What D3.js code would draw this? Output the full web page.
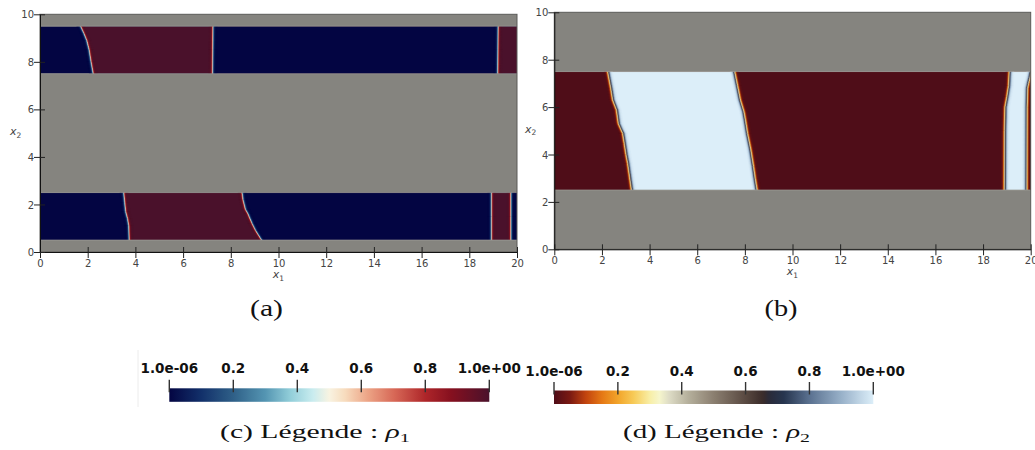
<!DOCTYPE html>
<html><head><meta charset="utf-8">
<script src="https://cdn.jsdelivr.net/npm/d3@7"></script>
<style>
html,body{margin:0;padding:0;background:#fff;}
svg{display:block;}
.tick text{font-family:"DejaVu Sans",sans-serif;font-size:10px;fill:#444;}
</style></head>
<body><svg id="c" width="1035" height="450"></svg>
<script>
// ---------- data ----------
const xTicks = [0, 2, 4, 6, 8, 10, 12, 14, 16, 18, 20];
const yTicks = [0, 2, 4, 6, 8, 10];
const cbTicks = [0, 0.2, 0.4, 0.6, 0.8, 1];
const cbLabels = ["1.0e-06", "0.2", "0.4", "0.6", "0.8", "1.0e+00"];

// Panel (a) : rho1, two bands
const bandA1 = [7.5, 9.5];
const bandA1Values = [0, 1, 0, 1];
const bandA1Interfaces = [
  [[1.71, 9.5], [1.85, 9.2], [1.97, 8.9], [2.07, 8.5], [2.15, 8.0], [2.24, 7.5]],
  [[7.26, 9.5], [7.25, 8.5], [7.24, 7.5]],
  [[19.22, 9.5], [19.21, 8.5], [19.2, 7.5]]
];
const bandA2 = [0.5, 2.5];
const bandA2Values = [0, 1, 0, 1, 0];
const bandA2Interfaces = [
  [[3.52, 2.5], [3.56, 2.1], [3.6, 1.7], [3.68, 1.4], [3.73, 1.1], [3.75, 0.5]],
  [[8.48, 2.5], [8.52, 2.2], [8.62, 1.8], [8.73, 1.6], [8.9, 1.2], [9.05, 0.9], [9.3, 0.5]],
  [[18.94, 2.5], [18.94, 1.5], [18.94, 0.5]],
  [[19.75, 2.5], [19.75, 1.5], [19.75, 0.5]]
];

// Panel (b) : rho2, one band
const bandB = [2.5, 7.5];
const bandBValues = [0, 1, 0, 1, 0];
const bandBInterfaces = [
  [[2.27, 7.5], [2.4, 6.8], [2.48, 6.3], [2.64, 5.88], [2.72, 5.3], [2.9, 4.89], [2.97, 4.47], [3.04, 4.0], [3.11, 3.63], [3.21, 2.92], [3.27, 2.5]],
  [[7.56, 7.5], [7.68, 6.9], [7.8, 6.3], [7.95, 5.8], [8.01, 5.46], [8.1, 4.89], [8.24, 4.19], [8.35, 3.49], [8.42, 3.0], [8.5, 2.5]],
  [[19.13, 7.5], [19.1, 6.9], [19.03, 6.44], [18.95, 6.0], [18.93, 5.0], [18.92, 2.5]],
  [[20.0, 7.45], [19.96, 7.25], [19.9, 7.0], [19.86, 6.8], [19.84, 6.0], [19.83, 2.5]]
];

// colormaps
const cmap1Stops = [0, 0.1, 0.2, 0.3, 0.38, 0.45, 0.5, 0.55, 0.62, 0.7, 0.8, 0.88, 1];
const cmap1Colors = ["#030542", "#12306a", "#2f6088", "#5495b2", "#93cfda", "#caecef", "#f8f3e1", "#f7dbbd", "#eca486", "#d86a58", "#ae2629", "#86101f", "#4a112b"];
const cmap2Stops = [0, 0.05, 0.1, 0.15, 0.2, 0.25, 0.3, 0.33, 0.36, 0.42, 0.5, 0.6, 0.655, 0.675, 0.72, 0.8, 0.9, 1];
const cmap2Colors = ["#4f0d18", "#7a1912", "#c2440f", "#e57815", "#f2a42a", "#f7cb58", "#f8eea6", "#f6f6cc", "#dedcc6", "#b5b09c", "#8b7f70", "#594941", "#3a2b29", "#292b3a", "#27354f", "#5a7190", "#98b1c9", "#dceef9"];

const gray = "#85847f";

// ---------- drawing ----------
const svg = d3.select("#c");
const defs = svg.append("defs");
const cmap1 = d3.scaleLinear().domain(cmap1Stops).range(cmap1Colors).interpolate(d3.interpolateRgb).clamp(true);
const cmap2 = d3.scaleLinear().domain(cmap2Stops).range(cmap2Colors).interpolate(d3.interpolateRgb).clamp(true);

let clipId = 0;
function drawPanel(cfg) {
  const {x, y, bands, cmap} = cfg;
  const g = svg.append("g");
  g.append("rect").attr("x", x(0)).attr("y", y(10)).attr("width", x(20) - x(0)).attr("height", y(0) - y(10)).attr("fill", gray);
  const line = d3.line().x(d => x(d[0])).y(d => y(d[1]));
  bands.forEach(b => {
    const [y0, y1] = b.range;
    const id = "clip" + (clipId++);
    defs.append("clipPath").attr("id", id).append("rect")
      .attr("x", x(0)).attr("y", y(y1)).attr("width", x(20) - x(0)).attr("height", y(y0) - y(y1));
    const bg = g.append("g").attr("clip-path", `url(#${id})`);
    bg.append("rect").attr("x", x(0)).attr("y", y(y1)).attr("width", x(20) - x(0)).attr("height", y(y0) - y(y1))
      .attr("fill", cmap(b.values[0]));
    b.interfaces.forEach((itf, k) => {
      const poly = itf.concat([[20.5, y0], [20.5, y1]]);
      bg.append("path").attr("d", line(poly) + "Z").attr("fill", cmap(b.values[k + 1]));
    });
    // diffuse interface
    b.interfaces.forEach((itf, k) => {
      const a = b.values[k], c = b.values[k + 1];
      const ext = [[itf[0][0], y1 + 0.3]].concat(itf, [[itf[itf.length - 1][0], y0 - 0.3]]);
      const offs = d3.range(-4, 4.01, 0.5);
      offs.forEach(dx => {
        const s = 0.5 * (1 + Math.tanh(dx / cfg.w));
        bg.append("path").attr("d", line(ext)).attr("transform", `translate(${dx},0)`)
          .attr("fill", "none").attr("stroke", cmap(a + (c - a) * s)).attr("stroke-width", 0.8);
      });
    });
    [y0, y1].forEach(yy => {
      g.append("line").attr("x1", x(0)).attr("x2", x(20)).attr("y1", y(yy)).attr("y2", y(yy))
        .attr("stroke", "#9a9994").attr("stroke-width", 0.8);
    });
  });
  g.append("rect").attr("x", x(0)).attr("y", y(10)).attr("width", x(20) - x(0)).attr("height", y(0) - y(10))
    .attr("fill", "none").attr("stroke", "#5a5a58").attr("stroke-width", 1);
  const ax = g.append("g").attr("transform", `translate(0,${y(0)})`)
    .call(d3.axisBottom(x).tickValues(xTicks).tickSizeInner(6).tickSizeOuter(0).tickPadding(3).tickFormat(d3.format("d")));
  ax.select(".domain").attr("stroke", "#111");
  ax.selectAll(".tick line").attr("y1", -5).attr("y2", 6).attr("stroke", "#222");
  ax.selectAll(".tick text").attr("y", 8).attr("dy", "0.71em");
  const ay = g.append("g").attr("transform", `translate(${x(0)},0)`)
    .call(d3.axisLeft(y).tickValues(yTicks).tickSizeInner(6).tickSizeOuter(0).tickPadding(2).tickFormat(d3.format("d")));
  ay.select(".domain").attr("stroke", "#111");
  ay.selectAll(".tick line").attr("x1", -6).attr("x2", 5).attr("stroke", "#222");
  ay.selectAll(".tick text").attr("x", -6).attr("dy", "0.36em");
  const tx = g.append("text").attr("x", (x(0) + x(20)) / 2).attr("y", y(0) + 26).attr("text-anchor", "middle")
    .attr("font-family", "DejaVu Sans").attr("font-size", 11).attr("fill", "#444");
  tx.append("tspan").attr("font-style", "italic").text("x");
  tx.append("tspan").attr("font-size", 7.5).attr("dy", 2.5).text("1");
  const ty = g.append("text").attr("x", cfg.ylabX).attr("y", (y(0) + y(10)) / 2 + 2).attr("text-anchor", "start")
    .attr("font-family", "DejaVu Sans").attr("font-size", 11).attr("fill", "#444");
  ty.append("tspan").attr("font-style", "italic").text("x");
  ty.append("tspan").attr("font-size", 7.5).attr("dy", 2.5).text("2");
  svg.append("text").attr("x", cfg.capX).attr("y", 316).attr("text-anchor", "middle")
    .attr("font-family", "Liberation Serif").attr("font-size", 24).attr("fill", "#111")
    .attr("textLength", 33).attr("lengthAdjust", "spacingAndGlyphs").text(cfg.cap);
}

drawPanel({
  x: d3.scaleLinear([0, 20], [40, 517]), y: d3.scaleLinear([0, 10], [252, 14.3]),
  bands: [{range: bandA1, values: bandA1Values, interfaces: bandA1Interfaces},
          {range: bandA2, values: bandA2Values, interfaces: bandA2Interfaces}],
  cmap: cmap1, w: 1.2, ylabX: 10, capX: 266.5, cap: "(a)"
});
drawPanel({
  x: d3.scaleLinear([0, 20], [554.3, 1030.7]), y: d3.scaleLinear([0, 10], [249.3, 12.3]),
  bands: [{range: bandB, values: bandBValues, interfaces: bandBInterfaces}],
  cmap: cmap2, w: 1.6, ylabX: 525, capX: 781, cap: "(b)"
});

function colorbar(cfg) {
  const s = d3.scaleLinear([0, 1], [cfg.x0, cfg.x1]);
  const gid = "grad" + cfg.id;
  const gr = defs.append("linearGradient").attr("id", gid).attr("x1", "0%").attr("x2", "100%");
  d3.range(0, 1.0001, 0.01).forEach(t => gr.append("stop").attr("offset", (t * 100) + "%").attr("stop-color", cfg.cmap(t)));
  const g = svg.append("g");
  g.append("rect").attr("x", s(0)).attr("y", cfg.barY).attr("width", s(1) - s(0)).attr("height", 13.5).attr("fill", `url(#${gid})`);
  g.selectAll("line.t").data(cbTicks).join("line").attr("class", "t")
    .attr("x1", d => s(d)).attr("x2", d => s(d)).attr("y1", cfg.barY - 8.5).attr("y2", cfg.barY + 4)
    .attr("stroke", "#333").attr("stroke-width", 1.4);
  g.selectAll("text.l").data(cbTicks).join("text").attr("class", "l")
    .attr("x", d => s(d)).attr("y", cfg.barY - 15).attr("text-anchor", "middle")
    .attr("font-family", "DejaVu Sans").attr("font-weight", "bold").attr("font-size", 13.5).attr("fill", "#111")
    .text((d, i) => cbLabels[i]);
  const cap = svg.append("text").attr("x", cfg.capX).attr("y", 438)
    .attr("font-family", "Liberation Serif").attr("font-size", 19).attr("fill", "#111")
    .attr("textLength", cfg.capW).attr("lengthAdjust", "spacingAndGlyphs");
  cap.append("tspan").text(cfg.capText + " : ");
  cap.append("tspan").attr("font-style", "italic").text("ρ");
  cap.append("tspan").attr("font-size", 13).attr("dy", 4).text(cfg.sub);
}
svg.append("line").attr("x1", 138).attr("x2", 138).attr("y1", 350).attr("y2", 407).attr("stroke", "#ececec");
colorbar({id: 1, cmap: cmap1, x0: 169.3, x1: 489.3, barY: 388.3, capX: 220, capW: 190, capText: "(c)  Légende", sub: "1"});
colorbar({id: 2, cmap: cmap2, x0: 554, x1: 873.3, barY: 390.5, capX: 623, capW: 187, capText: "(d)  Légende", sub: "2"});
</script></body></html>
